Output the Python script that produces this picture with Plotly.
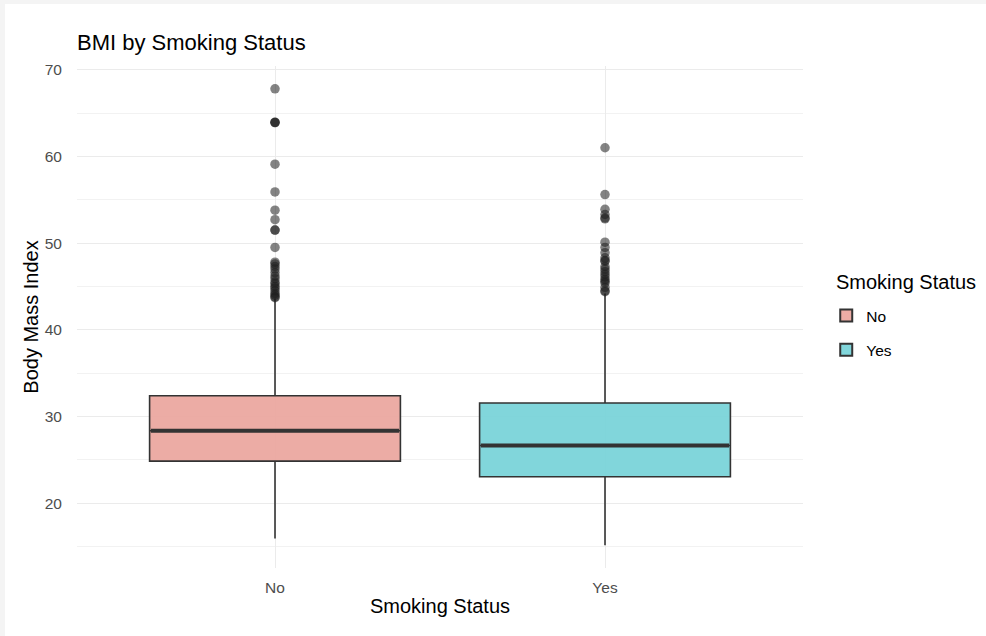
import plotly.graph_objects as go

# ---------------- data ----------------
categories = ["No", "Yes"]
q1 = [24.85, 23.04]
median = [28.35, 26.66]
q3 = [32.39, 31.55]
lower_whisker = [15.92, 15.15]
upper_whisker = [43.6, 44.2]

outliers_no = [67.8, 63.9, 63.9, 63.95, 59.1, 55.9, 53.8, 52.7, 51.5, 51.5, 49.5,
               47.8, 47.6, 47.3, 47.0, 46.6, 46.2, 45.9, 45.5, 45.3, 45.0, 44.8,
               44.5, 44.2, 44.0, 43.8, 43.7]
outliers_yes = [61.0, 55.6, 53.9, 53.3, 52.9, 52.8, 50.1, 49.5, 48.9, 48.3, 48.0,
                47.9, 47.3, 47.0, 46.7, 46.4, 46.1, 45.8, 45.6, 45.4, 44.9, 44.5,
                44.4]
outliers = [outliers_no, outliers_yes]

fill_colors = ["rgba(235,168,160,0.95)", "rgba(122,212,217,0.95)"]
line_color = "#333333"
box_width = 0.76

fig = go.Figure()

for i, cat in enumerate(categories):
    fig.add_trace(go.Box(
        x=[i], q1=[q1[i]], median=[median[i]], q3=[q3[i]],
        lowerfence=[lower_whisker[i]], upperfence=[upper_whisker[i]],
        name=cat, width=box_width, fillcolor=fill_colors[i],
        line=dict(color=line_color, width=1.6),
        boxpoints=False, whiskerwidth=0, showlegend=True,
        legendgroup=cat, hoverinfo="skip",
    ))
    # thick median line (ggplot fatten)
    fig.add_trace(go.Scatter(
        x=[i - box_width / 2 + 0.004, i + box_width / 2 - 0.004],
        y=[median[i], median[i]], mode="lines", legendgroup=cat,
        line=dict(color=line_color, width=4), showlegend=False, hoverinfo="skip",
    ))
    # outliers
    fig.add_trace(go.Scatter(
        x=[i] * len(outliers[i]), y=outliers[i], mode="markers", legendgroup=cat,
        marker=dict(color="rgba(30,30,30,0.55)", size=9.5, line=dict(width=0)),
        showlegend=False, hoverinfo="skip",
    ))

font_family = "Liberation Sans, Arial, sans-serif"

fig.update_layout(
    width=986, height=636,
    margin=dict(l=77, r=183, t=66, b=68),
    paper_bgcolor="#F4F4F4",
    plot_bgcolor="rgba(0,0,0,0)",
    font=dict(family=font_family, color="#000000"),
    boxmode="overlay",
    title=dict(text="BMI by Smoking Status", x=77 / 986, xanchor="left",
               y=1 - 42 / 636, yanchor="middle",
               font=dict(size=22, color="#000000", family=font_family)),
    xaxis=dict(
        range=[-0.6, 1.6], tickvals=list(range(len(categories))), ticktext=categories,
        showgrid=True, gridcolor="#EBEBEB", gridwidth=1.1, zeroline=False,
        showline=False, ticks="outside", ticklen=5, tickcolor="rgba(0,0,0,0)",
        tickfont=dict(size=15.5, color="#4D4D4D"),
        title=dict(text="Smoking Status", font=dict(size=20, color="#000000"), standoff=4),
    ),
    yaxis=dict(
        range=[12.52, 70.43], tickvals=[20, 30, 40, 50, 60, 70],
        showgrid=True, gridcolor="#EBEBEB", gridwidth=1.1, zeroline=False,
        showline=False, ticks="outside", ticklen=11, tickcolor="rgba(0,0,0,0)",
        tickfont=dict(size=15.5, color="#4D4D4D"),
        minor=dict(tickvals=[15, 25, 35, 45, 55, 65], showgrid=True,
                   gridcolor="#F2F2F2", gridwidth=0.8),
        title=dict(text="Body Mass Index", font=dict(size=20, color="#000000"), standoff=0),
    ),
    legend=dict(
        x=1.032, xanchor="left", y=(568 - 299) / 502, yanchor="top",
        font=dict(size=15.5, color="#000000"),
        bgcolor="rgba(0,0,0,0)", traceorder="grouped", tracegroupgap=11,
        itemsizing="constant",
    ),
    annotations=[dict(text="Smoking Status", xref="paper", yref="paper",
                      x=(834 - 77) / 726, xanchor="left",
                      y=(568 - 282) / 502, yanchor="middle", showarrow=False,
                      font=dict(size=20, color="#000000"))],
    shapes=[dict(type="rect", xref="paper", yref="paper",
                 x0=(5 - 77) / 726, x1=(986 - 77) / 726 + 0.01,
                 y0=-(636 - 568) / 502 - 0.01, y1=(568 - 4) / 502,
                 fillcolor="#FFFFFF", line=dict(width=0), layer="below")],
)

fig.write_html("out.html")
